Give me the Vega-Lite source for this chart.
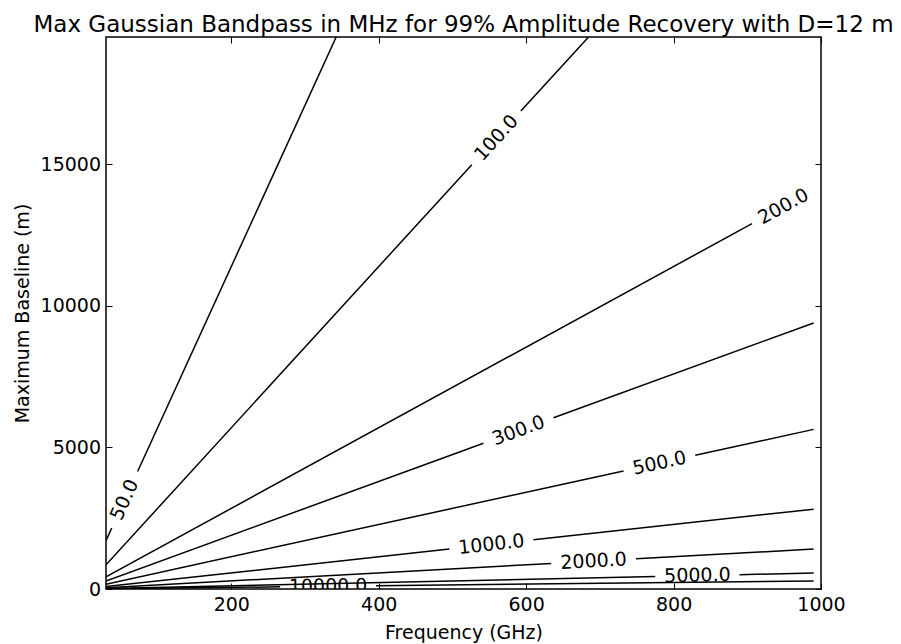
{
  "$schema": "https://vega.github.io/schema/vega-lite/v6.json",
  "autosize": {"type": "none"},
  "padding": {"left": 106, "top": 37, "right": 80, "bottom": 55},
  "width": 715,
  "height": 552,
  "title": {
    "text": "Max Gaussian Bandpass in MHz for 99% Amplitude Recovery with D=12 m",
    "fontSize": 23,
    "fontWeight": "normal",
    "color": "black",
    "anchor": "middle",
    "baseline": "alphabetic",
    "offset": 8,
    "dy": 26
  },
  "config": {
    "font": "DejaVu Sans",
    "view": {"stroke": "black", "strokeWidth": 1.5},
    "axis": {
      "grid": false,
      "domain": false,
      "tickColor": "black",
      "tickSize": -6,
      "tickWidth": 1,
      "labelColor": "black",
      "labelFontSize": 19,
      "titleFontSize": 19,
      "titleFontWeight": "normal",
      "titleColor": "black",
      "labelFlush": false,
      "labelOverlap": false
    }
  },
  "layer": [
    {
      "data": {
        "values": [
          {"level": 50, "part": 1, "freq": 30, "baseline": 1709},
          {"level": 50, "part": 1, "freq": 37.8, "baseline": 2153},
          {"level": 50, "part": 2, "freq": 72.9, "baseline": 4152},
          {"level": 50, "part": 2, "freq": 342.3, "baseline": 19500},
          {"level": 100, "part": 1, "freq": 30, "baseline": 854},
          {"level": 100, "part": 1, "freq": 526.3, "baseline": 14989},
          {"level": 100, "part": 2, "freq": 592.8, "baseline": 16883},
          {"level": 100, "part": 2, "freq": 684.7, "baseline": 19500},
          {"level": 200, "part": 1, "freq": 30, "baseline": 427},
          {"level": 200, "part": 1, "freq": 906.4, "baseline": 12907},
          {"level": 300, "part": 1, "freq": 30, "baseline": 285},
          {"level": 300, "part": 1, "freq": 542.1, "baseline": 5146},
          {"level": 300, "part": 2, "freq": 637.1, "baseline": 6048},
          {"level": 300, "part": 2, "freq": 990, "baseline": 9398},
          {"level": 500, "part": 1, "freq": 30, "baseline": 171},
          {"level": 500, "part": 1, "freq": 732.1, "baseline": 4170},
          {"level": 500, "part": 2, "freq": 829.4, "baseline": 4724},
          {"level": 500, "part": 2, "freq": 990, "baseline": 5639},
          {"level": 1000, "part": 1, "freq": 30, "baseline": 85.4},
          {"level": 1000, "part": 1, "freq": 495.9, "baseline": 1412},
          {"level": 1000, "part": 2, "freq": 609.9, "baseline": 1737},
          {"level": 1000, "part": 2, "freq": 990, "baseline": 2820},
          {"level": 2000, "part": 1, "freq": 30, "baseline": 42.7},
          {"level": 2000, "part": 1, "freq": 634, "baseline": 903},
          {"level": 2000, "part": 2, "freq": 748.9, "baseline": 1066},
          {"level": 2000, "part": 2, "freq": 990, "baseline": 1410},
          {"level": 5000, "part": 1, "freq": 30, "baseline": 17.1},
          {"level": 5000, "part": 1, "freq": 775.1, "baseline": 441.5},
          {"level": 5000, "part": 2, "freq": 889.5, "baseline": 506.7},
          {"level": 5000, "part": 2, "freq": 990, "baseline": 563.9},
          {"level": 10000, "part": 1, "freq": 30, "baseline": 8.5},
          {"level": 10000, "part": 1, "freq": 266.2, "baseline": 75.8},
          {"level": 10000, "part": 2, "freq": 396.4, "baseline": 112.9},
          {"level": 10000, "part": 2, "freq": 990, "baseline": 282}
        ]
      },
      "mark": {"type": "line", "color": "black", "strokeWidth": 1.5, "clip": true},
      "encoding": {
        "x": {
          "field": "freq",
          "type": "quantitative",
          "scale": {"domain": [30, 1000], "nice": false, "zero": false},
          "axis": {
            "orient": "bottom",
            "values": [200, 400, 600, 800, 1000],
            "format": "d",
            "labelPadding": 12.5,
            "title": "Frequency (GHz)",
            "titleBaseline": "alphabetic",
            "titleY": 49
          }
        },
        "y": {
          "field": "baseline",
          "type": "quantitative",
          "scale": {"domain": [0, 19500], "nice": false, "zero": false},
          "axis": {
            "orient": "left",
            "values": [0, 5000, 10000, 15000],
            "format": "d",
            "labelPadding": 11.5,
            "title": "Maximum Baseline (m)",
            "titleBaseline": "alphabetic",
            "titleAngle": -90,
            "titleX": -78,
            "titleY": 276
          }
        },
        "detail": [
          {"field": "level", "type": "nominal"},
          {"field": "part", "type": "nominal"}
        ],
        "order": {"field": "freq", "type": "quantitative"}
      }
    },
    {
      "data": {
        "values": [
          {"label": "50.0", "freq": 55.3, "baseline": 3150},
          {"label": "100.0", "freq": 559.5, "baseline": 15935},
          {"label": "200.0", "freq": 949, "baseline": 13514},
          {"label": "300.0", "freq": 589.6, "baseline": 5597},
          {"label": "500.0", "freq": 780.8, "baseline": 4447},
          {"label": "1000.0", "freq": 552.9, "baseline": 1575},
          {"label": "2000.0", "freq": 691.5, "baseline": 985},
          {"label": "5000.0", "freq": 832.3, "baseline": 474.1},
          {"label": "10000.0", "freq": 331.3, "baseline": 94.4}
        ]
      },
      "mark": {"type": "text", "fontSize": 19, "color": "black", "align": "center", "baseline": "middle", "clip": true},
      "encoding": {
        "x": {
          "field": "freq",
          "type": "quantitative",
          "scale": {"domain": [30, 1000], "nice": false, "zero": false},
          "axis": {"orient": "top", "values": [200, 400, 600, 800, 1000], "labels": false, "title": null}
        },
        "y": {
          "field": "baseline",
          "type": "quantitative",
          "scale": {"domain": [0, 19500], "nice": false, "zero": false},
          "axis": {"orient": "right", "values": [0, 5000, 10000, 15000], "labels": false, "title": null}
        },
        "text": {"field": "label", "type": "nominal"},
        "angle": {
          "field": "label",
          "type": "ordinal",
          "scale": {
            "type": "ordinal",
            "domain": ["50.0", "100.0", "200.0", "300.0", "500.0", "1000.0", "2000.0", "5000.0", "10000.0"],
            "range": [-65.5, -47.6, -28.7, -20.1, -12.4, -6.25, -3.1, -1.25, -0.63]
          },
          "legend": null
        }
      }
    }
  ],
  "resolve": {"axis": {"x": "independent", "y": "independent"}}
}
